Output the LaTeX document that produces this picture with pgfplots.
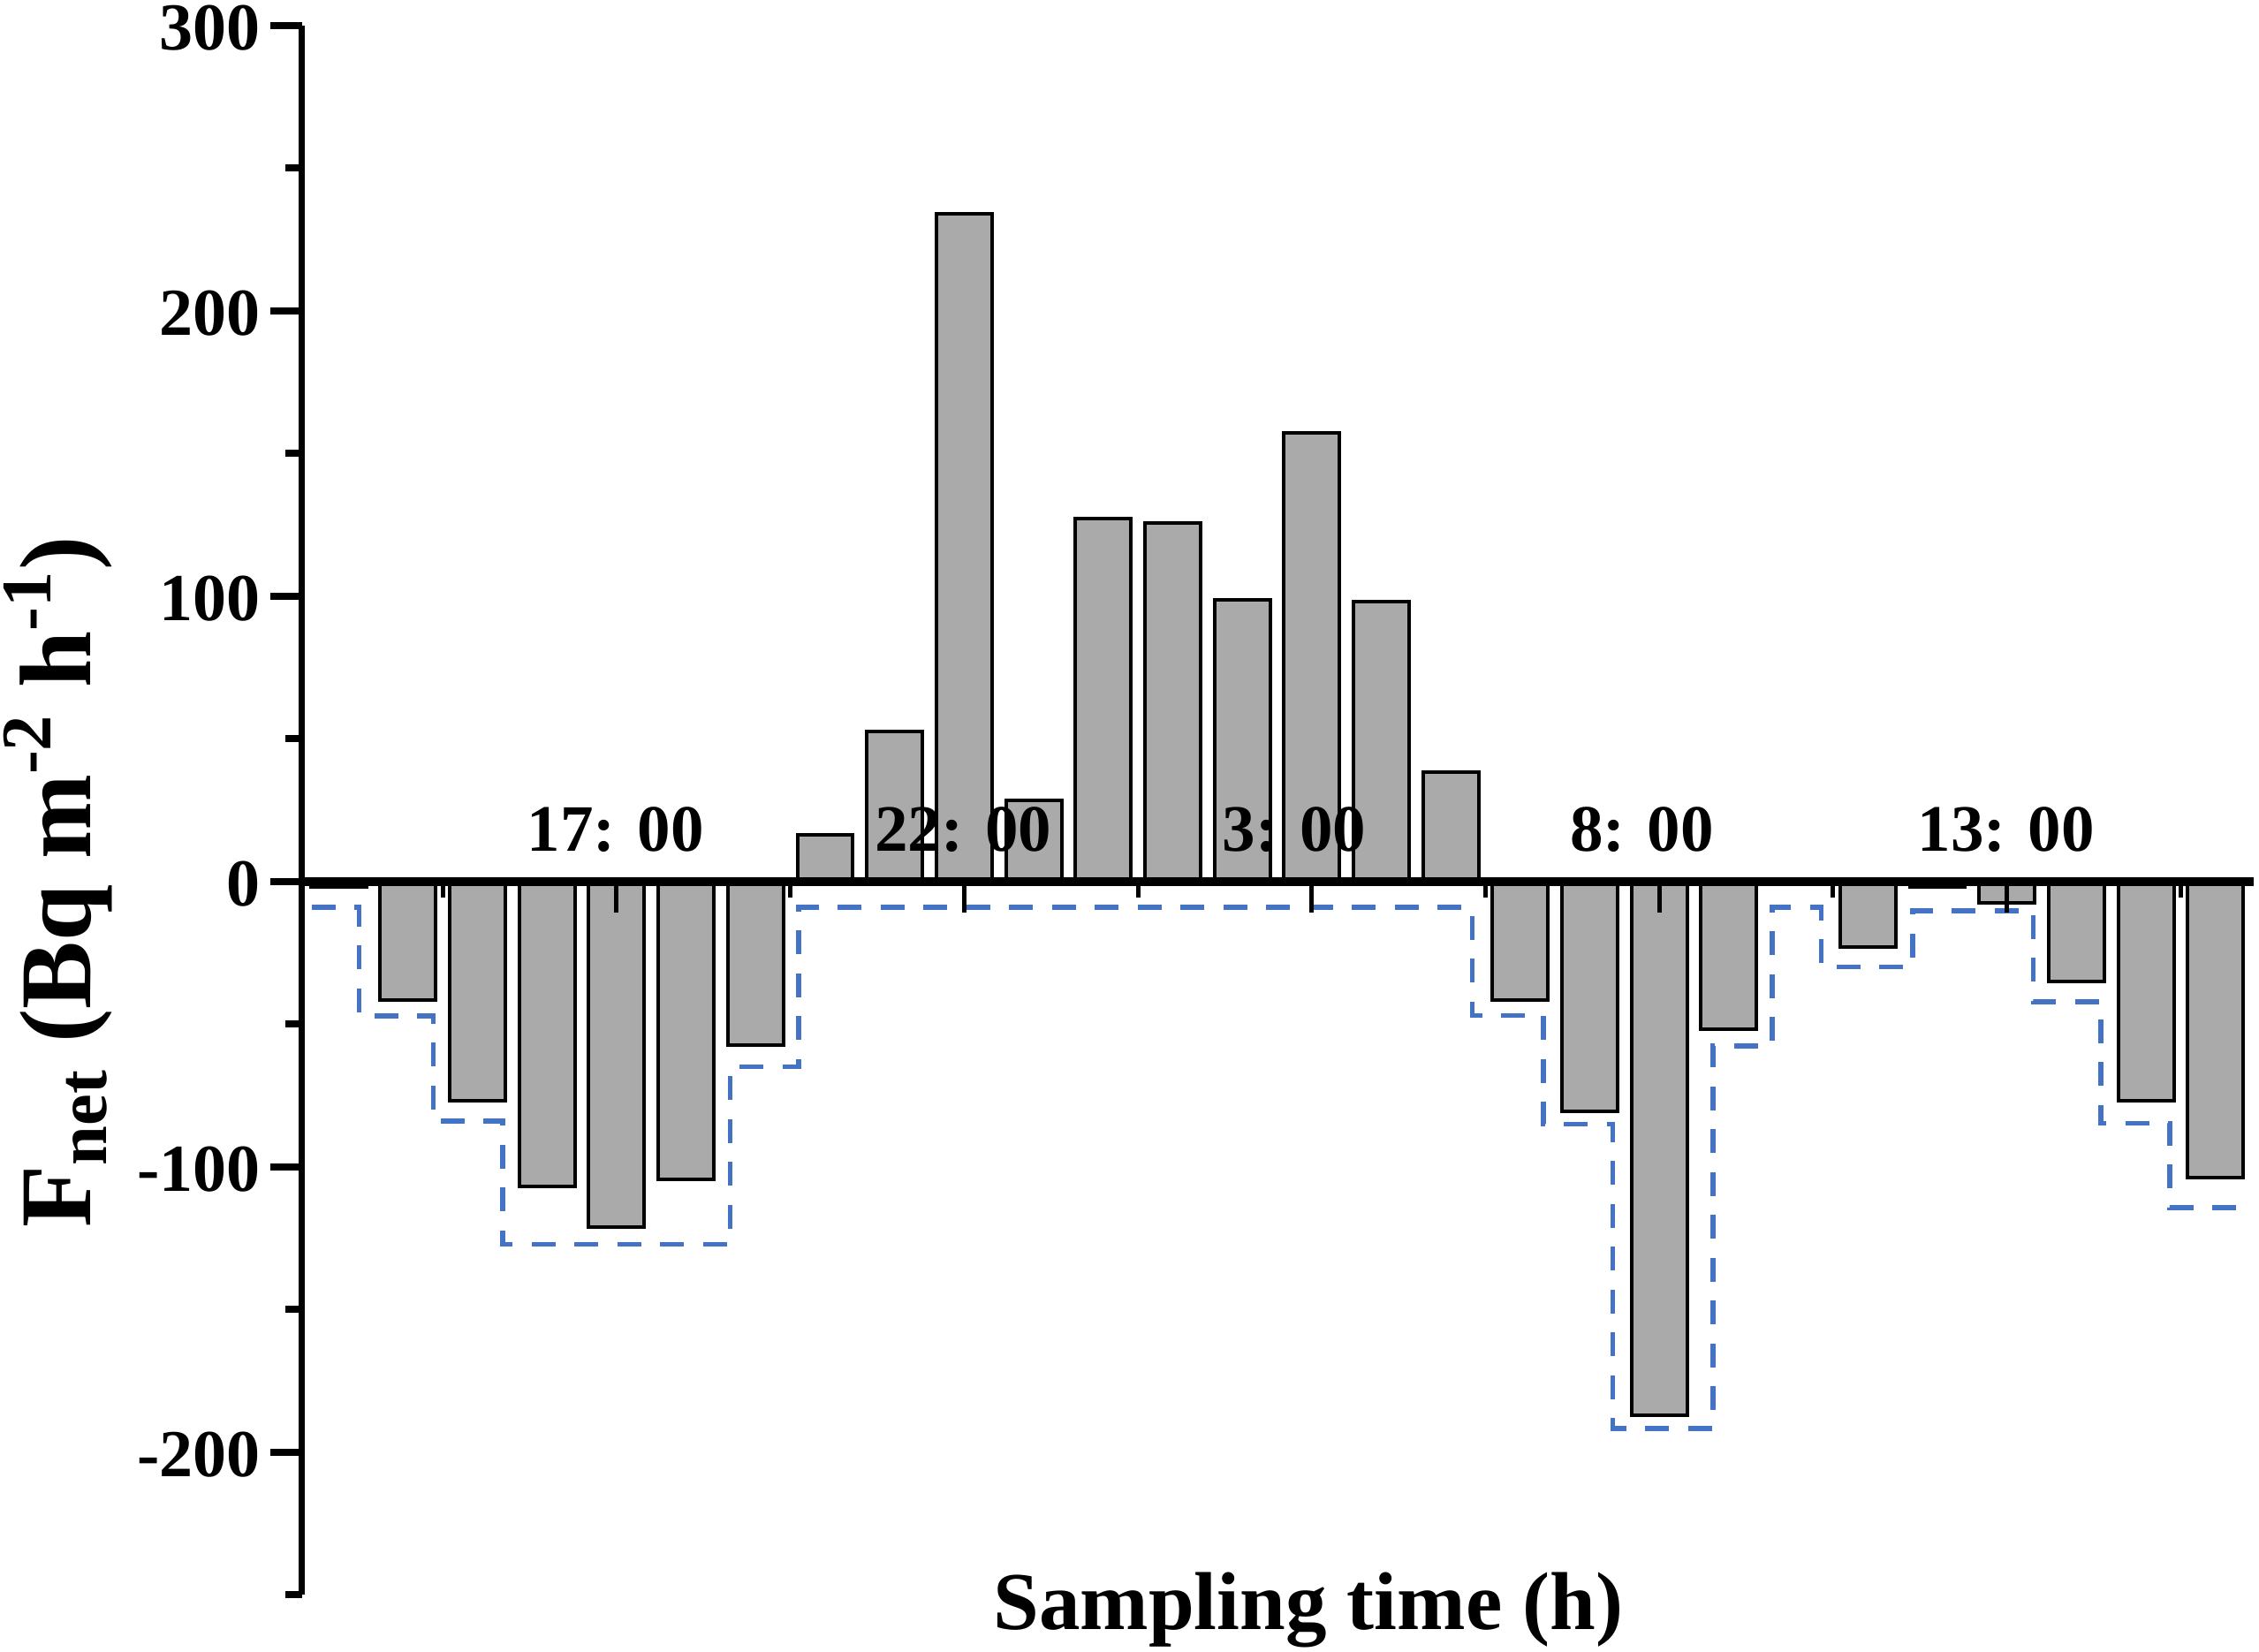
\documentclass[border=0pt]{standalone}
\usepackage{fontspec}
\setmainfont{Liberation Serif}
\usepackage{pgfplots}
\usepackage{pgfplotstable}
\pgfplotsset{compat=1.18}
\definecolor{barfill}{RGB}{170,170,170}
\definecolor{dashblue}{RGB}{68,114,196}

\pgfplotstableread{
x y
0 -2
1 -41.4
2 -76.9
3 -106.7
4 -121
5 -104.2
6 -57.2
7 16.4
8 52.5
9 234.2
10 28.4
11 127.3
12 125.7
13 98.7
14 157.3
15 98.0
16 38.5
17 -41.4
18 -80.5
19 -187.1
20 -51.8
21 0
22 -23
23 -2
24 -7.4
25 -35
26 -76.7
27 -103.8
}\bardata

\pgfplotstableread{
x y
-0.39 -9.1
0.295 -9.1
0.295 -47.1
1.365 -47.1
1.365 -83.9
2.362 -83.9
2.362 -127.1
5.635 -127.1
5.635 -64.9
6.617 -64.9
6.617 -9.1
16.31 -9.1
16.31 -46.9
17.33 -46.9
17.33 -85
18.33 -85
18.33 -191.6
19.77 -191.6
19.77 -57.5
20.62 -57.5
20.62 -9.1
21.33 -9.1
21.33 -29.9
22.64 -29.9
22.64 -10.3
24.38 -10.3
24.38 -42.2
25.35 -42.2
25.35 -84.7
26.34 -84.7
26.34 -114.2
27.55 -114.2
}\envdata

\begin{document}
\begin{tikzpicture}
\useasboundingbox (0,0) rectangle (511.4pt,374pt);
\begin{axis}[
  at={(68.3pt,12.9pt)}, anchor=south west,
  scale only axis, width=441.9pt, height=355.3pt,
  xmin=-0.53, xmax=27.55, ymin=-250, ymax=300,
  axis x line=middle, axis y line=left,
  x axis line style={-, line width=2pt},
  y axis line style={-, line width=1.3pt},
  axis on top,
  clip=false,
  hide obscured x ticks=false,
  hide obscured y ticks=false,
  xtick={4,9,14,19,24},
  xticklabels={17: 00,22: 00,3: 00,8: 00,13: 00},
  minor xtick={1.5,6.5,11.5,16.5,21.5,26.5},
  ytick={-200,-100,0,100,200,300},
  yticklabels={-200,-100,0,100,200,300},
  minor ytick={-250,-150,-50,50,150,250},
  tick align=outside,
  major tick length=7pt, minor tick length=3.6pt,
  xtick style={line width=1pt, black},
  ytick style={line width=1.6pt, black},
  xticklabel style={font=\fontsize{15}{15}\selectfont\bfseries, anchor=base west, inner sep=0pt, xshift=-20.4pt, yshift=13.8pt},
  yticklabel style={font=\fontsize{15.2}{15.2}\selectfont\bfseries, anchor=east, inner sep=0pt, xshift=-2.2pt, yshift=-0.6pt},
  xlabel={Sampling time (h)},
  ylabel={F\textsubscript{net} (Bq m\textsuperscript{-2} h\textsuperscript{-1})},
  xlabel style={at={(axis description cs:0.5157,-0.0222)}, anchor=base, font=\fontsize{18.6}{18.6}\selectfont\bfseries, inner sep=0pt},
  ylabel style={at={(axis description cs:-0.125,0.4545)}, anchor=center, font=\fontsize{23}{23}\selectfont\bfseries, inner sep=0pt},
]
\addplot[dashblue, line width=1.15pt, dash pattern=on 5.4pt off 4.3pt, line join=miter, mark=none] table[x=x,y=y]{\envdata};
\addplot[ybar, bar width=0.8, bar shift=0pt, fill=barfill, draw=black, line width=0.8pt] table[x=x,y=y]{\bardata};
\end{axis}
\end{tikzpicture}
\end{document}
